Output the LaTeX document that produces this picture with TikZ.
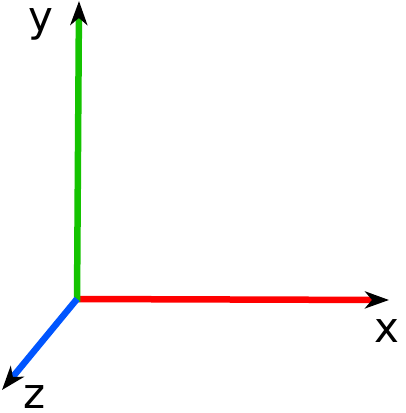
\documentclass[tikz,border=0pt]{standalone}
\usepackage{fontspec}
\setmainfont{DejaVu Sans}
\usetikzlibrary{arrows.meta}
\definecolor{axred}{RGB}{255,0,0}
\definecolor{axgreen}{RGB}{20,195,0}
\definecolor{axblue}{RGB}{0,85,255}
\tikzset{
  axis/.style={line width=6.5pt, -{Stealth[length=24pt,width=17pt,inset=7pt,color=black]}},
  lbl/.style={inner sep=0pt, anchor=base, text height=0.56em, text depth=0pt,
    font=\fontsize{42}{42}\selectfont}
}
\begin{document}
\begin{tikzpicture}[x=1pt,y=-1pt]
\useasboundingbox (0,0) rectangle (405,413);
\coordinate (O) at (77,299);
\coordinate (X) at (389,300);
\coordinate (Y) at (79,1);
\coordinate (Z) at (2,390);
\draw[axis, axred] (74,299) -- (X);
\draw[axis, axgreen] (77,302) -- (Y);
\draw[axis, axblue] (O) -- (Z);
\node[lbl] (lx) at (387,342) {x};
\node[lbl] (ly) at (41,31) {y};
\node[lbl] (lz) at (35,408) {z};
\end{tikzpicture}
\end{document}
